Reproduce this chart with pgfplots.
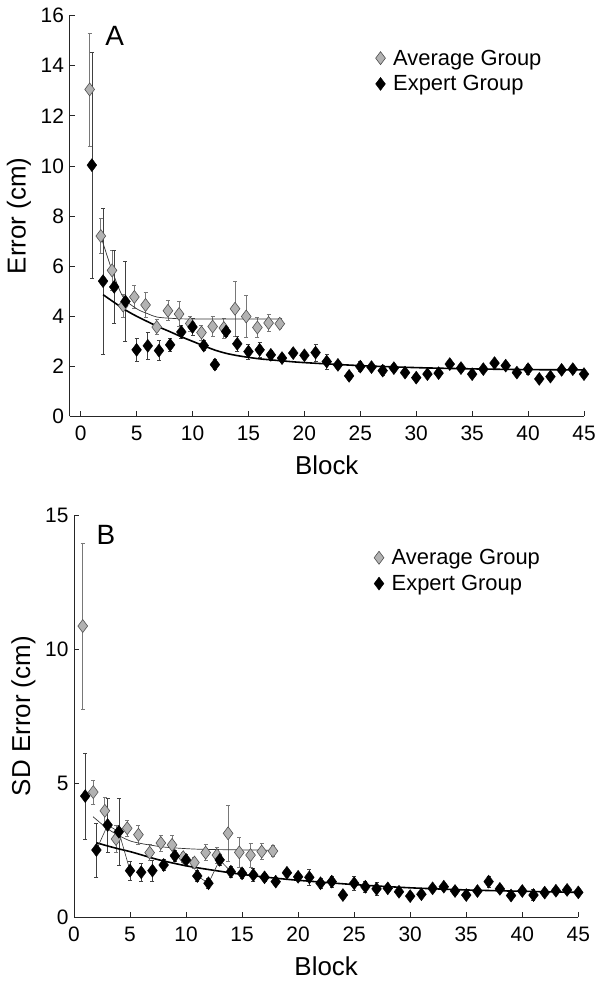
\documentclass[border=0pt]{standalone}
\usepackage{pgfplots}
\pgfplotsset{compat=1.18}
\usepackage{pgfplotstable}
\usepackage{fontspec}
\setmainfont{Liberation Sans}
\definecolor{avgfill}{RGB}{178,178,178}
\definecolor{avgedge}{RGB}{80,80,80}
\definecolor{barg}{RGB}{120,120,120}

\pgfplotstableread{
x y e
0.8 13.05 2.25
1.8 7.2 0.7
2.8 5.83 0.8
3.8 4.42 0.45
4.8 4.77 0.45
5.8 4.45 0.5
6.8 3.57 0.3
7.8 4.22 0.4
8.8 4.09 0.5
9.8 3.71 0.3
10.8 3.35 0.3
11.8 3.59 0.4
12.8 3.53 0.4
13.8 4.3 1.1
14.8 3.99 0.85
15.8 3.55 0.4
16.8 3.73 0.35
17.8 3.7 0.2
}\avgA

\pgfplotstableread{
x y e
1 10.03 4.5
2 5.4 2.9
3 5.17 1.45
4 4.59 1.6
5 2.66 0.45
6 2.82 0.55
7 2.63 0.4
8 2.86 0.25
9 3.37 0.25
10 3.57 0.35
11 2.83 0.2
12 2.07 0.2
13 3.39 0.2
14 2.9 0.3
15 2.59 0.3
16 2.66 0.3
17 2.46 0.2
18 2.33 0.1
19 2.53 0.1
20 2.44 0.1
21 2.55 0.35
22 2.19 0.3
23 2.06 0.1
24 1.62 0.1
25 1.99 0.2
26 1.97 0.1
27 1.83 0.2
28 1.93 0.1
29 1.75 0.1
30 1.55 0.1
31 1.69 0.1
32 1.73 0.1
33 2.09 0.1
34 1.93 0.1
35 1.69 0.1
36 1.89 0.1
37 2.13 0.1
38 2.03 0.1
39 1.75 0.1
40 1.89 0.2
41 1.5 0.15
42 1.59 0.1
43 1.86 0.1
44 1.89 0.15
45 1.69 0.1
}\expA

\pgfplotstableread{
x y e
0.78 10.86 3.1
1.72 4.67 0.45
2.75 3.97 0.5
3.75 2.92 0.5
4.75 3.32 0.3
5.75 3.08 0.35
6.75 2.41 0.3
7.75 2.77 0.3
8.75 2.7 0.35
9.75 2.24 0.2
10.75 2.04 0.2
11.75 2.41 0.3
12.75 2.32 0.3
13.75 3.13 1.05
14.75 2.42 0.56
15.75 2.32 0.45
16.75 2.45 0.3
17.75 2.47 0.2
}\avgB

\pgfplotstableread{
x y e
1 4.52 1.6
2 2.51 1.0
3 3.44 1.0
4 3.19 1.25
5 1.74 0.35
6 1.68 0.35
7 1.74 0.4
8 1.95 0.2
9 2.29 0.2
10 2.14 0.2
11 1.54 0.2
12 1.27 0.2
13 2.14 0.2
14 1.7 0.2
15 1.64 0.2
16 1.58 0.25
17 1.49 0.15
18 1.33 0.1
19 1.66 0.1
20 1.51 0.1
21 1.49 0.3
22 1.27 0.2
23 1.33 0.2
24 0.83 0.1
25 1.27 0.25
26 1.14 0.2
27 1.06 0.25
28 1.08 0.1
29 0.95 0.1
30 0.79 0.1
31 0.86 0.1
32 1.08 0.1
33 1.14 0.1
34 0.98 0.1
35 0.83 0.1
36 0.98 0.1
37 1.33 0.2
38 1.06 0.1
39 0.81 0.1
40 0.98 0.1
41 0.83 0.2
42 0.92 0.1
43 0.99 0.1
44 1.02 0.1
45 0.93 0.1
}\expB

\pgfplotsset{
  panel/.style={
    scale only axis,
    axis x line*=bottom, axis y line*=left,
    axis line style={-, black!85, line width=0.7pt},
    tick align=inside, major tick length=5bp,
    tick style={black!85, line width=0.6pt},
    xmax=45,
    xtick={0,5,...,45},
    /pgf/number format/assume math mode=true,
    tick label style={font=\fontsize{21}{23}\selectfont},
    xticklabel style={yshift=-6bp},
    yticklabel style={xshift=-2bp},
    label style={font=\fontsize{26}{28}\selectfont},
    xlabel style={yshift=-8bp},
    ylabel style={yshift=3bp},
    clip=false,
    legend cell align=left,
    legend style={draw=none, fill=none, font=\fontsize{22}{24}\selectfont,
      row sep=5bp, inner sep=0pt},
    legend image code/.code={\draw[#1] plot coordinates {(0.05cm,0cm)}; \path (-0.2cm,0) (0.42cm,0);},
  },
  avg/.style={only marks, mark=diamond*, mark size=6.5bp,
    mark options={fill=avgfill, draw=avgedge, line width=0.6pt},
    error bars/.cd, y dir=both, y explicit,
    error bar style={barg, line width=0.8pt},
    error mark options={rotate=90, mark size=2bp, barg, line width=0.6pt}},
  expt/.style={only marks, mark=diamond*, mark size=6.5bp,
    mark options={fill=black, draw=black},
    error bars/.cd, y dir=both, y explicit,
    error bar style={black!75, line width=0.6pt},
    error mark options={rotate=90, mark size=2bp, black!75, line width=0.6pt}},
}

\begin{document}
\begin{tikzpicture}
\useasboundingbox (0,0) rectangle (606bp,982bp);

% ---------- Panel A ----------
\begin{axis}[panel,
  at={(69.5bp,565.5bp)}, anchor=south west,
  width=514.5bp, height=401bp,
  xmin=-1, ymin=0, ymax=16,
  ytick={0,2,...,16},
  xlabel={Block}, ylabel={Error (cm)},
  legend style={at={(axis description cs:0.59,0.92)}, anchor=north west},
]
\addplot[avg] table[x=x, y=y, y error=e] {\avgA};
\addlegendentry{Average Group}
\addplot[expt] table[x=x, y=y, y error=e] {\expA};
\addlegendentry{Expert Group}
\addplot[black, line width=1.6pt, smooth, forget plot] coordinates {
(2,4.86) (3,4.55) (4,4.25) (5,4.0) (6,3.78) (7,3.57) (8,3.38) (9,3.18) (10,3.0) (11,2.82) (12,2.65) (13,2.52) (14,2.43) (15,2.36) (16,2.3) (17,2.26) (18,2.22) (20,2.15) (25,2.03) (30,1.95) (35,1.9) (40,1.87) (45,1.86)};
\addplot[black!80, line width=0.7pt, smooth, forget plot] coordinates {
(1.8,7.2) (2.8,5.83) (3.8,4.76) (5,4.3) (6,4.1) (6.8,3.97) (8,3.92) (10,3.89) (18,3.89)};
\node[font=\fontsize{28}{30}\selectfont, anchor=base west] at (axis cs:1.9,14.8) {A};
\end{axis}

% ---------- Panel B ----------
\begin{axis}[panel,
  at={(74bp,64.7bp)}, anchor=south west,
  width=504.3bp, height=402.3bp,
  xmin=0, ymin=0, ymax=15,
  ytick={0,5,10,15},
  xlabel={Block}, ylabel={SD Error (cm)},
  legend style={at={(axis description cs:0.59,0.92)}, anchor=north west},
]
\addplot[avg] table[x=x, y=y, y error=e] {\avgB};
\addlegendentry{Average Group}
\addplot[expt] table[x=x, y=y, y error=e] {\expB};
\addlegendentry{Expert Group}
\addplot[black, line width=1.6pt, smooth, forget plot] coordinates {
(2,2.78) (3,2.66) (4,2.55) (5,2.45) (6,2.33) (7.5,2.15) (10,1.92) (12.5,1.75) (15,1.6) (17.5,1.48) (20,1.38) (25,1.22) (30,1.1) (35,1.02) (40,0.97) (45,0.93)};
\addplot[black!80, line width=0.7pt, smooth, forget plot] coordinates {
(1.7,3.75) (3,3.3) (4,3.05) (5,2.85) (6,2.75) (7,2.68) (8,2.62) (10,2.56) (12,2.53) (17.8,2.5)};
\addplot[black!80, line width=0.6pt, forget plot] coordinates {(2,2.51) (3,3.44) (4,3.19) (5,1.74)};
\addplot[black!80, line width=0.6pt, forget plot] coordinates {(11,1.54) (12,1.27) (13,2.14) (14,1.7)};
\node[font=\fontsize{28}{30}\selectfont, anchor=base west] at (axis cs:1.7,13.9) {B};
\end{axis}
\end{tikzpicture}
\end{document}
